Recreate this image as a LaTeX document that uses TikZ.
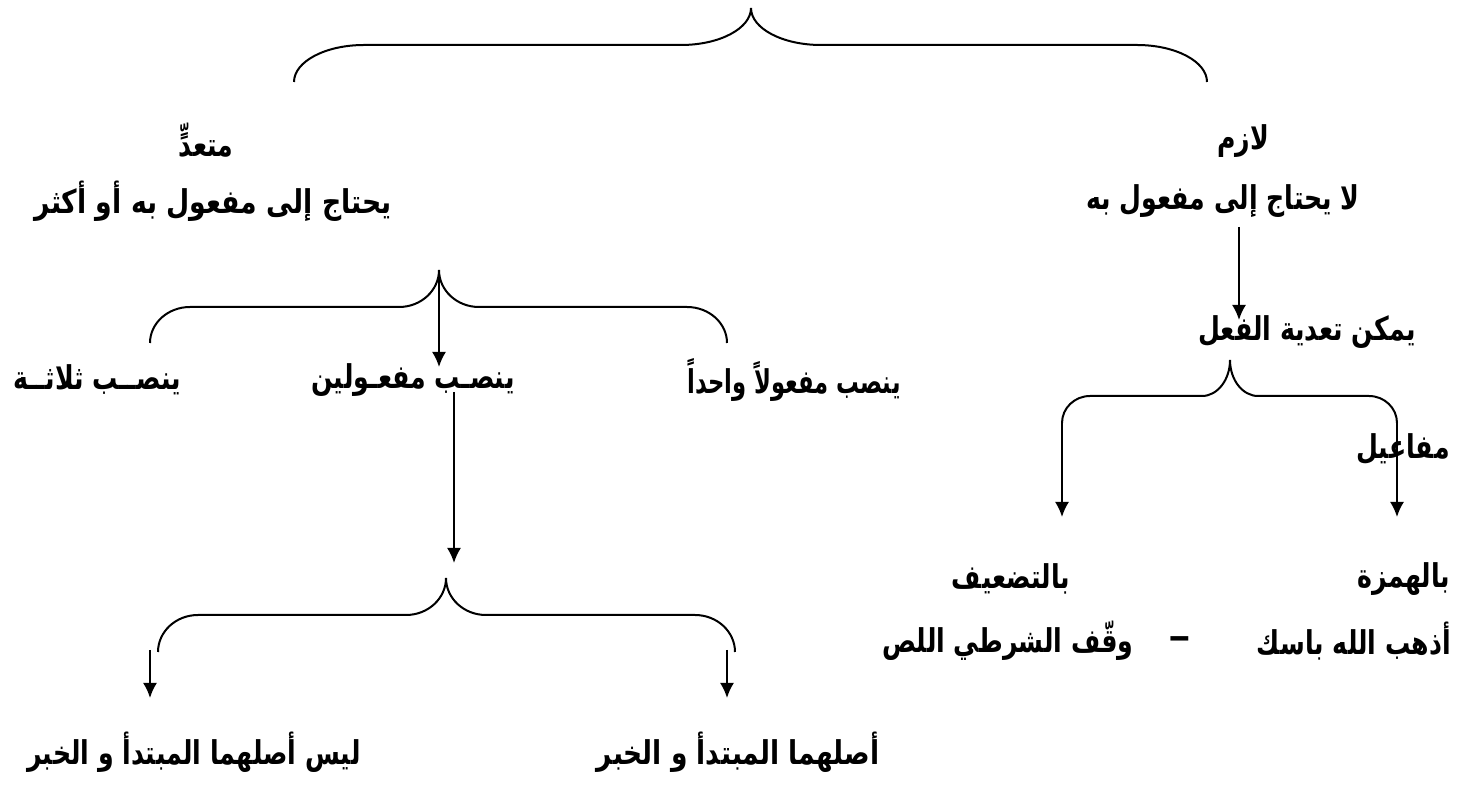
\documentclass[tikz,border=0pt]{standalone}
\usepackage{graphicx}
\usepackage{fontspec}
\usepackage{tikz}
\usetikzlibrary{arrows.meta,scopes}
\TeXXeTstate=1
\newfontfamily\arabicfont[Script=Arabic]{DejaVu Sans}
\newcommand{\ar}[1]{\scalebox{1}[1.3]{\arabicfont\bfseries\beginR #1\endR}}
% brace: name, left x, right x, tip x, tip y, bar y, end y, corner
\newcommand{\curly}[8]{%
  \draw[brace] (#2,#7) .. controls (#2,{#7-0.552*(#7-#6)}) and ({#2+0.448*#8},#6) .. ({#2+#8},#6)
    -- ({#4-#8},#6) .. controls ({#4-0.448*#8},#6) and (#4,{#5+0.552*(#6-#5)}) .. (#4,#5)
    .. controls (#4,{#5+0.552*(#6-#5)}) and ({#4+0.448*#8},#6) .. ({#4+#8},#6)
    -- ({#3-#8},#6) .. controls ({#3-0.448*#8},#6) and (#3,{#7-0.552*(#7-#6)}) .. (#3,#7);
  \coordinate (#1-tip) at (#4,#5);
  \coordinate (#1-l) at (#2,#7);
  \coordinate (#1-r) at (#3,#7);
}

\begin{document}
\begin{tikzpicture}[x=0.5pt,y=-0.5pt,
      brace/.style={draw=black,line width=1pt},
      arr/.style={-{Latex[length=7.5pt,width=7pt]},line width=1pt},
      lbl/.style={font=\fontsize{12.6}{14}\selectfont,inner sep=0pt}
]
      \useasboundingbox[fill=white] (0,0) rectangle (1462,785);

      % braces
      \curly{tb}{294}{1207}{751}{8}{45}{82}{70}
      \curly{mb}{150}{727}{439}{270}{307}{343}{40}
      \curly{rb}{1062}{1397}{1230}{360}{396}{423}{28}
      \curly{lb}{158}{735}{446}{578}{615}{652}{40}

      % left branch
      \node[lbl] at (206,140) (mutaadi) {\ar{متعدٍّ}};
      \node[lbl] at (213,201) (mutaadid) {\scalebox{1.06}[1]{\ar{يحتاج إلى مفعول به أو أكثر}}};
      \node[lbl] at (97,380) (thalatha) {\ar{ينصــب ثلاثــة}};
      \node[lbl] at (413,380) (mafulayn) {\ar{ينصـب مفعـولين}};
      \node[lbl] at (794,380) (wahid) {\scalebox{0.9}[1]{\ar{ينصب مفعولاً واحداً}}};
      \node[lbl] at (194,752) (laysa) {\ar{ليس أصلهما المبتدأ و الخبر}};
      \node[lbl] at (738,752) (asl) {\scalebox{1.05}[1]{\ar{أصلهما المبتدأ و الخبر}}};

      % right branch
      \node[lbl] at (1243,141) (lazim) {\ar{لازم}};
      \node[lbl] at (1223,201) (lazimd) {\ar{لا يحتاج إلى مفعول به}};
      \node[lbl] at (1307,332) (yumkin) {\ar{يمكن تعدية الفعل}};
      \node[lbl] at (1403,449) (mafaail) {\ar{مفاعيل}};
      \node[lbl] at (1404,579) (hamza) {\ar{بالهمزة}};
      \node[lbl] at (1011,579) (tadif) {\ar{بالتضعيف}};
      \node[lbl] at (1354,641) (ex1) {\ar{أذهب الله باسك}};
      \node[lbl] at (1180,643) (dash) {\scalebox{1.8}[1.4]{\arabicfont\bfseries –}};
      \node[lbl] at (1008,641) (ex2) {\ar{وقّف الشرطي اللص}};

      \coordinate (lz-s) at (1239,227);
      \coordinate (lz-e) at (1239,320);
      \coordinate (mb-e) at (439,367);
      \coordinate (mf-s) at (454,392);
      \coordinate (mf-e) at (454,563);
      \coordinate (rb-le) at (1062,517);
      \coordinate (rb-re) at (1397,517);
      \coordinate (ll-s) at (150,650);
      \coordinate (ll-e) at (150,698);
      \coordinate (lr-s) at (727,650);
      \coordinate (lr-e) at (727,698);

      {[arr]
          \draw (lz-s) -- (lz-e);
          \draw (mb-tip) -- (mb-e);
          \draw (mf-s) -- (mf-e);
          \draw (rb-l) -- (rb-le);
          \draw (rb-r) -- (rb-re);
          \draw (ll-s) -- (ll-e);
          \draw (lr-s) -- (lr-e);
      }
\end{tikzpicture}
\end{document}
